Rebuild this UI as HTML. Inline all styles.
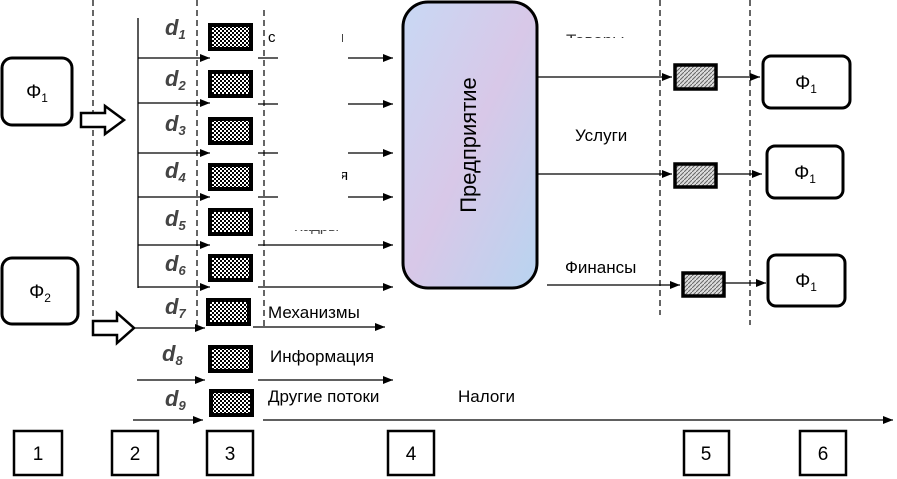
<!DOCTYPE html>
<html><head><meta charset="utf-8"><style>body{margin:0;background:#fff}svg{display:block}text{font-family:"Liberation Sans",sans-serif}</style></head><body>
<svg width="897" height="479" viewBox="0 0 897 479" xmlns="http://www.w3.org/2000/svg">
<defs>
<pattern id="ch" width="4" height="4" patternUnits="userSpaceOnUse"><rect width="4" height="4" fill="#fff"/><rect width="2" height="2" fill="#000"/><rect x="2" y="2" width="2" height="2" fill="#000"/></pattern>
<pattern id="ht" width="4" height="4" patternUnits="userSpaceOnUse"><rect width="4" height="4" fill="#ddd"/><path d="M0 4L4 0" stroke="#666" stroke-width="1"/></pattern>
<linearGradient id="g" x1="0" y1="0" x2="1" y2="1"><stop offset="0" stop-color="#c8d8f4"/><stop offset=".5" stop-color="#d8c8e8"/><stop offset="1" stop-color="#b8d4f0"/></linearGradient>
<marker id="a" markerWidth="10" markerHeight="8" refX="10" refY="4" orient="auto" markerUnits="userSpaceOnUse"><path d="M0 0L10 4L0 8Z" fill="#000"/></marker>
</defs>
<g fill="none" stroke="#000" stroke-width="3">
<rect x="2" y="58" width="70" height="67" rx="10"/>
<rect x="2" y="258" width="76" height="66" rx="10"/>
<rect x="763" y="56" width="87" height="52" rx="8"/>
<rect x="767" y="146" width="76" height="52" rx="8"/>
<rect x="768" y="255" width="77" height="51" rx="8"/>
</g>
<rect x="403" y="2" width="134" height="286" rx="25" fill="url(#g)" stroke="#000" stroke-width="3"/>
<text transform="translate(476,145) rotate(-90)" text-anchor="middle" font-size="22">Предприятие</text>
<g font-size="19" text-anchor="middle"><text x="37" y="98">Φ<tspan font-size="12" dy="4">1</tspan></text><text x="40" y="298">Φ<tspan font-size="12" dy="4">2</tspan></text>
<text x="806" y="89">Φ<tspan font-size="12" dy="4">1</tspan></text><text x="805" y="179">Φ<tspan font-size="12" dy="4">1</tspan></text><text x="806" y="287">Φ<tspan font-size="12" dy="4">1</tspan></text></g>
<g stroke="#000" stroke-width="1.2" stroke-dasharray="6,4" fill="none">
<line x1="93" y1="0" x2="93" y2="318"/><line x1="197" y1="0" x2="197" y2="330"/><line x1="264" y1="10" x2="264" y2="330"/>
<line x1="660" y1="0" x2="660" y2="315"/><line x1="750" y1="0" x2="750" y2="325"/></g>
<g fill="#fff" stroke="#000" stroke-width="2.5"><path d="M81 113H105V106L124 120L105 134V127H81Z"/><path d="M93 321H117V313L134 328L117 343V335H93Z"/></g>
<g stroke="#000" stroke-width="1.3" marker-end="url(#a)">
<line x1="138" y1="18" x2="138" y2="288" marker-end="none"/>
<line x1="138" y1="58" x2="210" y2="58"/><line x1="138" y1="103" x2="210" y2="103"/><line x1="138" y1="153" x2="210" y2="153"/><line x1="138" y1="197" x2="210" y2="197"/><line x1="138" y1="245" x2="210" y2="245"/><line x1="138" y1="287" x2="210" y2="287"/>
<line x1="135" y1="328" x2="205" y2="328"/><line x1="137" y1="380" x2="205" y2="380"/><line x1="133" y1="420" x2="203" y2="420"/>
<line x1="348" y1="58" x2="393" y2="58"/><line x1="348" y1="104" x2="393" y2="104"/><line x1="348" y1="153" x2="393" y2="153"/><line x1="348" y1="197" x2="393" y2="197"/>
<line x1="258" y1="245" x2="393" y2="245"/><line x1="258" y1="287" x2="393" y2="287"/>
<line x1="253" y1="327" x2="385" y2="327"/><line x1="258" y1="380" x2="393" y2="380"/><line x1="263" y1="420" x2="893" y2="420"/>
<line x1="537" y1="77" x2="672" y2="77"/><line x1="717" y1="77" x2="760" y2="77"/>
<line x1="537" y1="174" x2="672" y2="174"/><line x1="717" y1="174" x2="762" y2="174"/>
<line x1="547" y1="285" x2="680" y2="285"/><line x1="725" y1="283" x2="766" y2="283"/>
</g>
<g stroke="#000" stroke-width="1.3"><line x1="258" y1="58" x2="278" y2="58"/><line x1="258" y1="104" x2="278" y2="104"/><line x1="258" y1="153" x2="278" y2="153"/><line x1="258" y1="197" x2="278" y2="197"/></g>
<g fill="url(#ch)" stroke="#000" stroke-width="4">
<rect x="210" y="25" width="41" height="24"/><rect x="210" y="72" width="41" height="24"/><rect x="210" y="119" width="41" height="24"/><rect x="210" y="165" width="41" height="24"/><rect x="210" y="210" width="41" height="24"/><rect x="210" y="256" width="41" height="24"/><rect x="208" y="300" width="41" height="24"/><rect x="210" y="347" width="41" height="24"/><rect x="211" y="391" width="41" height="24"/></g>
<g fill="url(#ht)" stroke="#000" stroke-width="3.5">
<rect x="675" y="65" width="41" height="24"/><rect x="675" y="164" width="41" height="23"/><rect x="683" y="273" width="41" height="23"/></g>
<g font-family="Liberation Serif" font-style="italic" font-weight="bold" font-size="22" fill="#444">
<text x="165" y="35">d<tspan font-size="13" dy="4">1</tspan></text><text x="165" y="86">d<tspan font-size="13" dy="4">2</tspan></text><text x="165" y="131">d<tspan font-size="13" dy="4">3</tspan></text><text x="165" y="178">d<tspan font-size="13" dy="4">4</tspan></text><text x="165" y="226">d<tspan font-size="13" dy="4">5</tspan></text><text x="165" y="271">d<tspan font-size="13" dy="4">6</tspan></text><text x="165" y="314">d<tspan font-size="13" dy="4">7</tspan></text><text x="162" y="361">d<tspan font-size="13" dy="4">8</tspan></text><text x="165" y="406">d<tspan font-size="13" dy="4">9</tspan></text></g>
<g font-size="17" fill="#000">
<text x="268" y="318">Механизмы</text><text x="270" y="362">Информация</text><text x="268" y="402">Другие потоки</text>
<text x="458" y="402">Налоги</text><text x="575" y="141">Услуги</text><text x="565" y="273">Финансы</text>
<text x="268" y="42" font-size="15">с</text><text x="340" y="42" font-size="15">ı</text><text x="340" y="180" font-size="15">я</text>
<text x="294" y="231" font-size="15" fill="#444">Кадры</text>
<text x="566" y="46" font-size="17" fill="#333">Товары</text></g>
<rect x="278" y="30" width="64" height="200" fill="#fff"/>
<rect x="564" y="38" width="76" height="12" fill="#fff"/>
<g fill="none" stroke="#000" stroke-width="2.5">
<rect x="14" y="431" width="48" height="44"/><rect x="112" y="431" width="46" height="44"/><rect x="207" y="431" width="46" height="44"/><rect x="388" y="431" width="46" height="44"/><rect x="684" y="431" width="45" height="44"/><rect x="800" y="431" width="46" height="44"/></g>
<g font-size="19" text-anchor="middle"><text x="38" y="460">1</text><text x="135" y="460">2</text><text x="230" y="460">3</text><text x="411" y="460">4</text><text x="706" y="460">5</text><text x="823" y="460">6</text></g>
</svg>
</body></html>
